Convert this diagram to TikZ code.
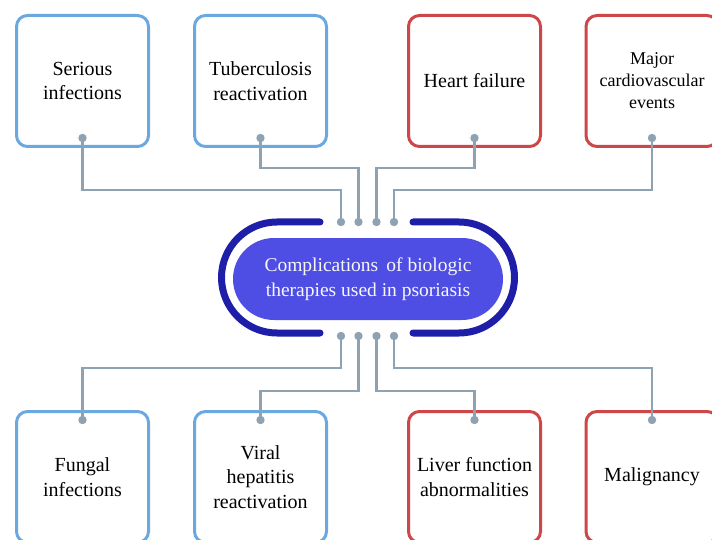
\documentclass[tikz,border=0pt]{standalone}
\usepackage{fontspec}
\setmainfont{Liberation Serif}
\definecolor{boxblue}{RGB}{108,168,224}
\definecolor{boxred}{RGB}{206,70,72}
\definecolor{conn}{RGB}{143,162,178}
\definecolor{brk}{RGB}{30,30,168}
\definecolor{core}{RGB}{78,78,228}
\tikzset{
  card/.style={draw, line width=3pt, rounded corners=11pt, minimum width=132pt, minimum height=131pt,
    align=center, font=\fontsize{20}{24.5}\selectfont, text=black, fill=white},
  bluecard/.style={card, draw=boxblue},
  redcard/.style={card, draw=boxred},
  wire/.style={draw=conn, line width=2.6pt},
  pin/.style={fill=conn, draw=none},
  brkline/.style={draw=brk, line width=7pt, line cap=round},
}
\begin{document}
\begin{tikzpicture}[x=1pt,y=-1pt]
\useasboundingbox (0,0) rectangle (712,540);
% cards
\node[bluecard] (b1) at (82.5,81) {Serious\\infections};
\node[bluecard] (b2) at (260.5,81) {Tuberculosis\\reactivation};
\node[redcard] (b3) at (474.5,81) {Heart failure};
\node[redcard, font=\fontsize{18}{22}\selectfont] (b4) at (652,81) {Major\\cardiovascular\\events};
\node[bluecard] (c1) at (82.5,477) {Fungal\\infections};
\node[bluecard] (c2) at (260.5,477) {Viral\\hepatitis\\reactivation};
\node[redcard] (c3) at (474.5,477) {Liver function\\abnormalities};
\node[redcard] (c4) at (652,477) {Malignancy};
% centre
\node[fill=core, rounded corners=41pt, minimum width=270pt, minimum height=82pt, align=center,
  text=white!94!gray, font=\fontsize{19.5}{25}\selectfont] (core) at (368,279)
  {Complications\, of biologic\\therapies used in psoriasis};
\draw[brkline] (320,222) -- (277,222) arc (270:90:55.5) -- (320,333);
\draw[brkline] (413,222) -- (459,222) arc (-90:90:55.5) -- (413,333);
% pins
\coordinate (t1) at (b1.center |- 0,138);
\coordinate (t2) at (b2.center |- 0,138);
\coordinate (t3) at (b3.center |- 0,138);
\coordinate (t4) at (b4.center |- 0,138);
\coordinate (u1) at (c1.center |- 0,420);
\coordinate (u2) at (c2.center |- 0,420);
\coordinate (u3) at (c3.center |- 0,420);
\coordinate (u4) at (c4.center |- 0,420);
\coordinate (h1) at (341,222);
\coordinate (h2) at (358.5,222);
\coordinate (h3) at (376.5,222);
\coordinate (h4) at (394,222);
\coordinate (g1) at (341,336);
\coordinate (g2) at (358.5,336);
\coordinate (g3) at (376.5,336);
\coordinate (g4) at (394,336);
% wires
\draw[wire] (t1) -- ++(0,52) -| (h1);
\draw[wire] (t2) -- ++(0,30) -| (h2);
\draw[wire] (t3) -- ++(0,30) -| (h3);
\draw[wire] (t4) -- ++(0,52) -| (h4);
\draw[wire] (g1) -- ++(0,32) -| (u1);
\draw[wire] (g2) -- ++(0,55) -| (u2);
\draw[wire] (g3) -- ++(0,55) -| (u3);
\draw[wire] (g4) -- ++(0,32) -| (u4);
\foreach \p in {t1,t2,t3,t4,u1,u2,u3,u4,h1,h2,h3,h4,g1,g2,g3,g4}
  \fill[pin] (\p) circle (4.2pt);
\end{tikzpicture}
\end{document}
